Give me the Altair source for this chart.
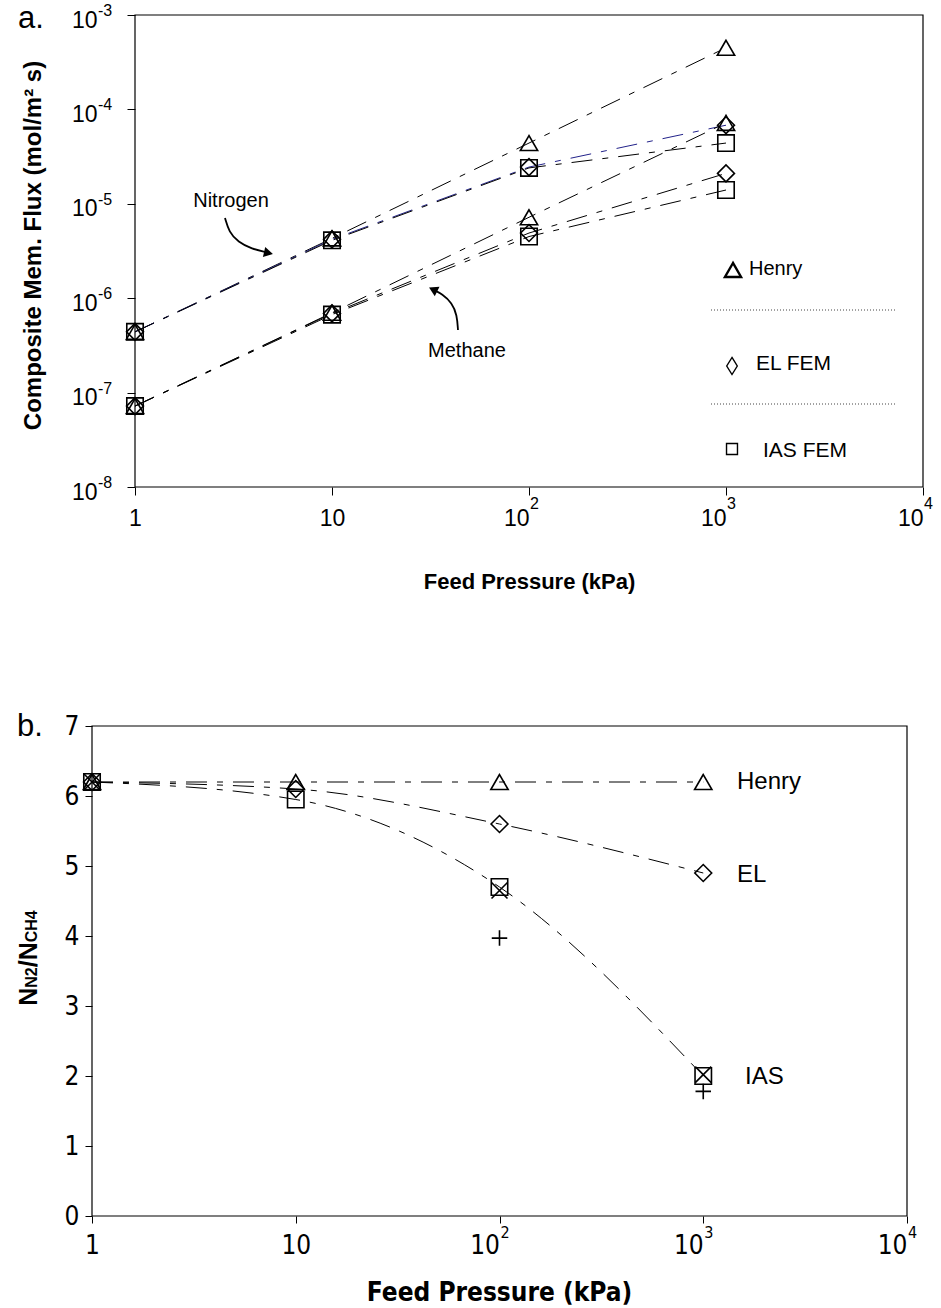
import altair as alt
import pandas as pd

# ---------------- data ----------------
pressure = [1, 10, 100, 1000]  # feed pressure, kPa

# composite membrane flux, mol/(m2 s)
n2_henry = [4.4e-7, 4.3e-6, 4.4e-5, 4.5e-4]
n2_el = [4.4e-7, 4.2e-6, 2.45e-5, 6.8e-5]
n2_ias = [4.4e-7, 4.1e-6, 2.4e-5, 4.4e-5]
ch4_henry = [7.2e-8, 7.0e-7, 7.2e-6, 7.2e-5]
ch4_el = [7.2e-8, 6.9e-7, 4.9e-6, 2.1e-5]
ch4_ias = [7.2e-8, 6.7e-7, 4.5e-6, 1.4e-5]

# flux ratio N2 / CH4
ratio_henry = [6.2, 6.2, 6.2, 6.2]
ratio_el = [6.2, 6.1, 5.6, 4.9]
ratio_ias = [6.2, 5.95, 4.7, 2.0]
ratio_x_pressure = [1, 100, 1000]
ratio_x = [6.2, 4.65, 2.02]
ratio_plus_pressure = [100, 1000]
ratio_plus = [3.97, 1.78]

# axis ticks
decades = [1, 10, 100, 1000, 10000]
decade_exponents = ["2", "3", "4"]
flux_ticks = [1e-8, 1e-7, 1e-6, 1e-5, 1e-4, 1e-3]
flux_exponents = ["-8", "-7", "-6", "-5", "-4", "-3"]
ratio_ticks = [0, 1, 2, 3, 4, 5, 6, 7]

# annotation arrows (kPa, flux)
nitrogen_arrow_p = [2.863, 3.001, 3.333, 3.926, 4.624]
nitrogen_arrow_v = [7.07e-6, 5.03e-6, 3.94e-6, 3.32e-6, 3.08e-6]
methane_arrow_p = [32.9, 36.2, 40.7, 43.1, 43.6]
methane_arrow_v = [1.222e-6, 1.108e-6, 8.9e-7, 6.64e-7, 4.6e-7]

SANS = "Liberation Sans, Arial, sans-serif"
NARROW = "'Liberation Sans Narrow', 'Arial Narrow', 'DejaVu Sans Condensed', sans-serif"
DASH = [21, 10, 6, 10]

# ---------------- scales (panel a on top, panel b below) ----------------
AX = alt.Scale(type="log", domain=[decades[0], decades[-1]], range=[135, 923], nice=False)
AY = alt.Scale(type="log", domain=[flux_ticks[0], flux_ticks[-1]], range=[487, 15], nice=False)
BX = alt.Scale(type="log", domain=[decades[0], decades[-1]], range=[92, 907], nice=False)
BY = alt.Scale(type="linear", domain=[ratio_ticks[0], ratio_ticks[-1]], range=[1216, 726],
               nice=False, zero=False)


def series_rows(p, v, gas, model):
    return [{"p": a, "v": b, "gas": gas, "model": model, "series": gas + " " + model}
            for a, b in zip(p, v)]


flux_df = pd.DataFrame(
    series_rows(pressure, n2_henry, "N2", "Henry")
    + series_rows(pressure, n2_el, "N2", "EL")
    + series_rows(pressure, n2_ias, "N2", "IAS")
    + series_rows(pressure, ch4_henry, "CH4", "Henry")
    + series_rows(pressure, ch4_el, "CH4", "EL")
    + series_rows(pressure, ch4_ias, "CH4", "IAS")
)

ratio_df = pd.DataFrame(
    series_rows(pressure, ratio_henry, "ratio", "Henry")
    + series_rows(pressure, ratio_el, "ratio", "EL")
    + series_rows(pressure, ratio_ias, "ratio", "IAS")
)
ratio_marks_df = pd.DataFrame(
    series_rows(pressure, ratio_henry, "ratio", "Henry")
    + series_rows(pressure, ratio_el, "ratio", "EL")
    + series_rows(pressure, ratio_ias, "ratio", "IAS")
    + series_rows(ratio_x_pressure, ratio_x, "ratio", "X")
    + series_rows(ratio_plus_pressure, ratio_plus, "ratio", "Plus")
)

SHAPES = alt.Scale(
    domain=["Henry", "EL", "IAS", "X", "Plus"],
    range=["triangle-up", "diamond", "square",
           "M-1,-1L1,1M-1,1L1,-1", "M-1,0L1,0M0,-1L0,1"],
)
SIZES = alt.Scale(domain=["Henry", "EL", "IAS", "X", "Plus"],
                  range=[300, 240, 230, 300, 300])


def text(label, x, y, size, font=SANS, weight="normal", align="left", angle=0, color="black"):
    return alt.Chart(pd.DataFrame({"t": [label]})).mark_text(
        font=font, fontSize=size, fontWeight=weight, align=align,
        baseline="alphabetic", angle=angle, color=color,
    ).encode(text="t:N", x=alt.value(x), y=alt.value(y))


# ---------------- panel a ----------------
a_frame = alt.Chart(pd.DataFrame({
    "p": [decades[0]], "p2": [decades[-1]], "v": [flux_ticks[0]], "v2": [flux_ticks[-1]]
})).mark_rect(fillOpacity=0, stroke="black", strokeWidth=1.2).encode(
    x=alt.X("p:Q", scale=AX, axis=None), x2="p2:Q",
    y=alt.Y("v:Q", scale=AY, axis=None), y2="v2:Q",
)

a_lines = alt.Chart(flux_df).mark_line(strokeDash=DASH, strokeWidth=1).encode(
    x=alt.X("p:Q", scale=AX, axis=None),
    y=alt.Y("v:Q", scale=AY, axis=None),
    detail="series:N",
    color=alt.Color("series:N", legend=None, scale=alt.Scale(
        domain=["N2 Henry", "N2 EL", "N2 IAS", "CH4 Henry", "CH4 EL", "CH4 IAS"],
        range=["black", "#22228a", "black", "black", "black", "black"])),
)

a_x_axis = alt.Axis(
    orient="bottom", offset=487 - 1308, values=decades,
    labelExpr="datum.value < 10 ? '1' : '10'",
    labelAlign={"condition": {"test": "datum.value >= 100", "value": "right"}, "value": "center"},
    labelFlush=False, labelOverlap=False, tickSize=8, labelPadding=12,
    labelFont=SANS, labelFontSize=23, labelColor="black", tickColor="black",
    domain=False, grid=False,
    title="Feed Pressure (kPa)", titleFont=SANS, titleFontSize=22, titleFontWeight="bold",
    titleColor="black", titleX=529, titleY=101, titleAlign="center", titleBaseline="alphabetic",
)
a_y_axis = alt.Axis(
    orient="left", offset=-135, values=flux_ticks, labelExpr="'10'",
    labelOverlap=False, tickSize=8, labelPadding=30, labelOffset=5,
    labelFont=SANS, labelFontSize=23, labelColor="black", tickColor="black",
    domain=False, grid=False,
    title="Composite Mem. Flux (mol/m² s)", titleFont=SANS, titleFontSize=24,
    titleFontWeight="bold", titleColor="black", titleAngle=270,
    titleX=40 - 135, titleY=245, titleAlign="center", titleBaseline="alphabetic",
)

a_points = alt.Chart(flux_df).mark_point(filled=False, strokeWidth=1.6, color="black", opacity=1).encode(
    x=alt.X("p:Q", scale=AX, axis=a_x_axis),
    y=alt.Y("v:Q", scale=AY, axis=a_y_axis),
    shape=alt.Shape("model:N", scale=SHAPES, legend=None),
    size=alt.Size("model:N", scale=SIZES, legend=None),
)

a_y_exp = alt.Chart(pd.DataFrame({"v": flux_ticks, "t": flux_exponents})).mark_text(
    font=SANS, fontSize=16, align="left", baseline="middle", dy=-4, color="black"
).encode(x=alt.value(98), y=alt.Y("v:Q", scale=AY, axis=None), text="t:N")

a_x_exp = alt.Chart(pd.DataFrame({"p": decades[2:], "t": decade_exponents})).mark_text(
    font=SANS, fontSize=16, align="left", baseline="alphabetic", dx=1, color="black"
).encode(x=alt.X("p:Q", scale=AX, axis=None), y=alt.value(509), text="t:N")

arrow_df = pd.DataFrame(
    [{"p": a, "v": b, "k": "n2"} for a, b in zip(nitrogen_arrow_p, nitrogen_arrow_v)]
    + [{"p": a, "v": b, "k": "ch4"} for a, b in zip(methane_arrow_p, methane_arrow_v)]
)
a_arrows = alt.Chart(arrow_df).mark_line(color="black", strokeWidth=1.8, interpolate="basis").encode(
    x=alt.X("p:Q", scale=AX, axis=None), y=alt.Y("v:Q", scale=AY, axis=None), detail="k:N")
a_head_n2 = alt.Chart(pd.DataFrame({"p": [4.76], "v": [3.01e-6]})).mark_point(
    shape="triangle-right", filled=True, color="black", size=110, angle=13, opacity=1
).encode(x=alt.X("p:Q", scale=AX, axis=None), y=alt.Y("v:Q", scale=AY, axis=None))
a_head_ch4 = alt.Chart(pd.DataFrame({"p": [32.6], "v": [1.237e-6]})).mark_point(
    shape="triangle-right", filled=True, color="black", size=110, angle=207, opacity=1
).encode(x=alt.X("p:Q", scale=AX, axis=None), y=alt.Y("v:Q", scale=AY, axis=None))

# legend block inside panel a
a_key_tri = alt.Chart(pd.DataFrame({"m": ["Henry"]})).mark_point(
    shape="triangle-up", filled=False, strokeWidth=2.4, color="black", size=260, opacity=1
).encode(x=alt.value(733), y=alt.value(270))
a_key_dia = alt.Chart(pd.DataFrame({"m": ["EL"]})).mark_point(
    shape="M0,-1L0.62,0L0,1L-0.62,0Z", filled=False, strokeWidth=1.4, color="black", size=290, opacity=1
).encode(x=alt.value(732), y=alt.value(366))
a_key_sq = alt.Chart(pd.DataFrame({"m": ["IAS"]})).mark_point(
    shape="square", filled=False, strokeWidth=1.4, color="black", size=120, opacity=1
).encode(x=alt.value(732), y=alt.value(449))
a_key_rules = alt.Chart(pd.DataFrame({"y": [310, 404]})).mark_rule(
    color="#444", strokeWidth=1, strokeDash=[1, 2]
).encode(x=alt.value(711), x2=alt.value(896), y=alt.Y("y:Q", scale=None))

a_texts = [
    text("a.", 18, 28, 31),
    text("Henry", 749, 275, 20),
    text("EL FEM", 756, 370, 21),
    text("IAS FEM", 763, 457, 21),
    text("Nitrogen", 231, 207, 20, align="center"),
    text("Methane", 467, 357, 20, align="center"),
]

# ---------------- panel b ----------------
b_frame = alt.Chart(pd.DataFrame({
    "p": [decades[0]], "p2": [decades[-1]], "v": [ratio_ticks[0]], "v2": [ratio_ticks[-1]]
})).mark_rect(fillOpacity=0, stroke="black", strokeWidth=1.2).encode(
    x=alt.X("p:Q", scale=BX, axis=None), x2="p2:Q",
    y=alt.Y("v:Q", scale=BY, axis=None), y2="v2:Q",
)

b_lines = alt.Chart(ratio_df).mark_line(
    strokeDash=DASH, strokeWidth=1, color="black", interpolate="monotone"
).encode(
    x=alt.X("p:Q", scale=BX, axis=None),
    y=alt.Y("v:Q", scale=BY, axis=None),
    detail="series:N",
)

b_x_axis = alt.Axis(
    orient="bottom", offset=1216 - 1308, values=decades,
    labelExpr="datum.value < 10 ? '1' : '10'",
    labelAlign={"condition": {"test": "datum.value >= 100", "value": "right"}, "value": "center"},
    labelFlush=False, labelOverlap=False, tickSize=7, labelPadding=9,
    labelFont=NARROW, labelFontSize=26, labelColor="black", tickColor="black",
    domain=False, grid=False,
    title="Feed Pressure (kPa)", titleFont=NARROW, titleFontSize=26, titleFontWeight="bold",
    titleColor="black", titleX=499, titleY=84, titleAlign="center", titleBaseline="alphabetic",
)
b_y_axis = alt.Axis(
    orient="left", offset=-92, values=ratio_ticks, labelOverlap=False,
    tickSize=7, labelPadding=6, labelFont=NARROW, labelFontSize=26,
    labelColor="black", tickColor="black", domain=False, grid=False, title=None,
)

b_points = alt.Chart(ratio_marks_df).mark_point(filled=False, strokeWidth=1.6, color="black", opacity=1).encode(
    x=alt.X("p:Q", scale=BX, axis=b_x_axis),
    y=alt.Y("v:Q", scale=BY, axis=b_y_axis),
    shape=alt.Shape("model:N", scale=SHAPES, legend=None),
    size=alt.Size("model:N", scale=SIZES, legend=None),
)

b_x_exp = alt.Chart(pd.DataFrame({"p": decades[2:], "t": decade_exponents})).mark_text(
    font=NARROW, fontSize=16, align="left", baseline="alphabetic", dx=1, color="black"
).encode(x=alt.X("p:Q", scale=BX, axis=None), y=alt.value(1238), text="t:N")

# y title N_N2 / N_CH4, written bottom-to-top with small subscripts on the baseline
b_title_parts = [("N", 25), ("N2", 16), ("/", 25), ("N", 25), ("CH4", 16)]
EM = {"N": 0.722, "2": 0.556, "/": 0.278, "C": 0.722, "H": 0.722, "4": 0.556}
title_len = sum(sum(EM[c] for c in s) * f for s, f in b_title_parts)
cursor = 958 + title_len / 2
b_title = []
for s, f in b_title_parts:
    b_title.append(text(s, 37, cursor, f, weight="bold", angle=270))
    cursor -= sum(EM[c] for c in s) * f

b_texts = [
    text("b.", 17, 736, 31),
    text("Henry", 737, 789, 24),
    text("EL", 737, 882, 24),
    text("IAS", 745, 1084, 24),
]

layers = ([a_frame, a_lines, a_arrows, a_head_n2, a_head_ch4, a_points, a_y_exp, a_x_exp,
           a_key_tri, a_key_dia, a_key_sq, a_key_rules] + a_texts
          + [b_frame, b_lines, b_points, b_x_exp] + b_title + b_texts)

chart = alt.layer(*layers).resolve_scale(
    x="independent", y="independent", shape="shared", size="shared"
).properties(
    width=941, height=1308, padding=0,
    autosize=alt.AutoSizeParams(type="none"),
    background="white",
).configure_view(stroke=None)

chart.save("out.html", embed_options={"renderer": "svg", "actions": False})
